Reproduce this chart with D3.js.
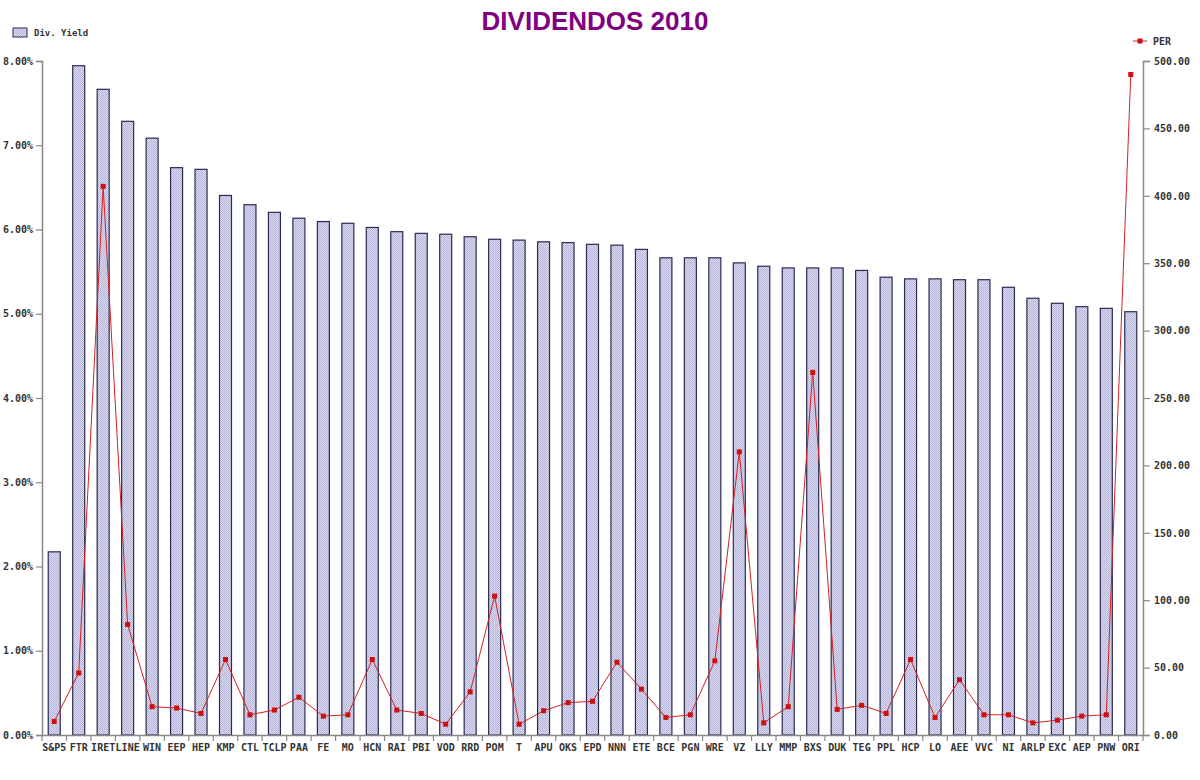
<!DOCTYPE html>
<html>
<head>
<meta charset="utf-8">
<script src="https://cdn.jsdelivr.net/npm/d3@7"></script>
<style>
body{margin:0;background:#fff;}
text{font-family:"DejaVu Sans Mono",monospace;font-weight:bold;fill:#333;}
</style>
</head>
<body>
<svg id="svg" width="1200" height="780"></svg>
<script>
var tickers=["S&P5","FTR","IRET","LINE","WIN","EEP","HEP","KMP","CTL","TCLP","PAA","FE","MO","HCN","RAI","PBI","VOD","RRD","POM","T","APU","OKS","EPD","NNN","ETE","BCE","PGN","WRE","VZ","LLY","MMP","BXS","DUK","TEG","PPL","HCP","LO","AEE","VVC","NI","ARLP","EXC","AEP","PNW","ORI"]
var divYield=[2.18,7.95,7.67,7.29,7.09,6.74,6.72,6.41,6.30,6.21,6.14,6.10,6.08,6.03,5.98,5.96,5.95,5.92,5.89,5.88,5.86,5.85,5.83,5.82,5.77,5.67,5.67,5.67,5.61,5.57,5.55,5.55,5.55,5.52,5.44,5.42,5.42,5.41,5.41,5.32,5.19,5.13,5.09,5.07,5.03]
var per=[10,46,407,82,21,20,16,56,15,18.5,28,14,15,56,18.5,16,8,32,103,8,18,24,25,54,34,13,15,55,210,9,21,269,19,22,16,56,13,41,15,15,9,11,14,15,490]
var leftTicks=[0,1,2,3,4,5,6,7,8]
var rightTicks=[0,50,100,150,200,250,300,350,400,450,500]

var svg=d3.select("#svg")
var mLeft=42,mRight=1143,mTop=61,mBottom=735

var x=d3.scaleBand().domain(tickers).range([mLeft,mRight]).padding(0)
var yL=d3.scaleLinear().domain([0,8]).range([mBottom,mTop])
var yR=d3.scaleLinear().domain([0,500]).range([mBottom,mTop])

//stippled fill for bars
var pat=svg.append("defs").append("pattern")
    .attr("id","dots").attr("width",2).attr("height",2)
    .attr("patternUnits","userSpaceOnUse")
pat.append("rect").attr("width",2).attr("height",2).attr("fill","#dcdcf0")
pat.append("rect").attr("width",1).attr("height",1).attr("fill","#b4b4da")
pat.append("rect").attr("x",1).attr("y",1).attr("width",1).attr("height",1).attr("fill","#b4b4da")

//title
svg.append("text")
    .attr("x",595).attr("y",30)
    .attr("text-anchor","middle")
    .style("font-family","'Liberation Sans',Arial,sans-serif")
    .style("font-size","26px")
    .style("font-weight","bold")
    .style("fill","#800080")
    .text("DIVIDENDOS 2010")

//bars
var bw=13
svg.selectAll("rect.bar")
    .data(divYield)
    .enter().append("rect")
        .attr("class","bar")
        .attr("x",(d,i)=>x(tickers[i])+x.bandwidth()/2-bw/2+0.5)
        .attr("y",d=>yL(d)+0.5)
        .attr("width",bw-1)
        .attr("height",d=>mBottom-yL(d)-0.5)
        .style("fill","url(#dots)")
        .style("stroke","#2a2a55")
        .style("stroke-width","1.2")

//axes
var axisColor="#888"
var gL=svg.append("g").attr("transform","translate("+mLeft+",0)")
    .call(d3.axisLeft(yL).tickValues(leftTicks).tickSize(6).tickPadding(3).tickFormat(d=>d3.format(".2f")(d)+"%"))
var gR=svg.append("g").attr("transform","translate("+mRight+",0)")
    .call(d3.axisRight(yR).tickValues(rightTicks).tickSize(7).tickPadding(4).tickFormat(d3.format(".2f")))
var gX=svg.append("g").attr("transform","translate(0,"+mBottom+")")
    .call(d3.axisBottom(x).tickSize(0).tickPadding(7))

;[gL,gR,gX].forEach(g=>{
    g.select(".domain").attr("stroke",axisColor).attr("stroke-width",1.5)
    g.selectAll(".tick line").attr("stroke",axisColor).attr("stroke-width",1.2)
    g.selectAll("text").style("font-size","10px").style("fill","#333")
        .style("font-family","'DejaVu Sans Mono',monospace").style("font-weight","bold")
})
gX.selectAll(".tick text").attr("dy","0.9em")

//x ticks between categories
svg.append("g").selectAll("line")
    .data(tickers.concat(["end"]))
    .enter().append("line")
        .attr("x1",(d,i)=>mLeft+i*x.bandwidth())
        .attr("x2",(d,i)=>mLeft+i*x.bandwidth())
        .attr("y1",mBottom)
        .attr("y2",mBottom+6)
        .attr("stroke",axisColor)
        .attr("stroke-width",1.2)

//PER line
var line=d3.line()
    .x((d,i)=>x(tickers[i])+x.bandwidth()/2)
    .y(d=>yR(d))
svg.append("path")
    .datum(per)
    .attr("d",line)
    .attr("fill","none")
    .attr("stroke","#d42020")
    .attr("stroke-width",1)

svg.selectAll("rect.pt")
    .data(per)
    .enter().append("rect")
        .attr("class","pt")
        .attr("x",(d,i)=>x(tickers[i])+x.bandwidth()/2-2.5)
        .attr("y",d=>yR(d)-2.5)
        .attr("width",5).attr("height",5)
        .attr("fill","#cc1010")

//legends
var lg1=svg.append("g").attr("transform","translate(13,28)")
lg1.append("rect").attr("width",14).attr("height",9)
    .style("fill","url(#dots)").style("stroke","#2a2a55").style("stroke-width",1)
lg1.append("text").attr("x",21).attr("y",8).style("font-size","9px").text("Div. Yield")

var lg2=svg.append("g").attr("transform","translate(1133,41)")
lg2.append("line").attr("x1",0).attr("x2",14).attr("stroke","#d42020")
lg2.append("rect").attr("x",4.5).attr("y",-2.5).attr("width",5).attr("height",5).attr("fill","#cc1010")
lg2.append("text").attr("x",20).attr("y",4).style("font-size","10px").text("PER")
</script>
</body>
</html>
